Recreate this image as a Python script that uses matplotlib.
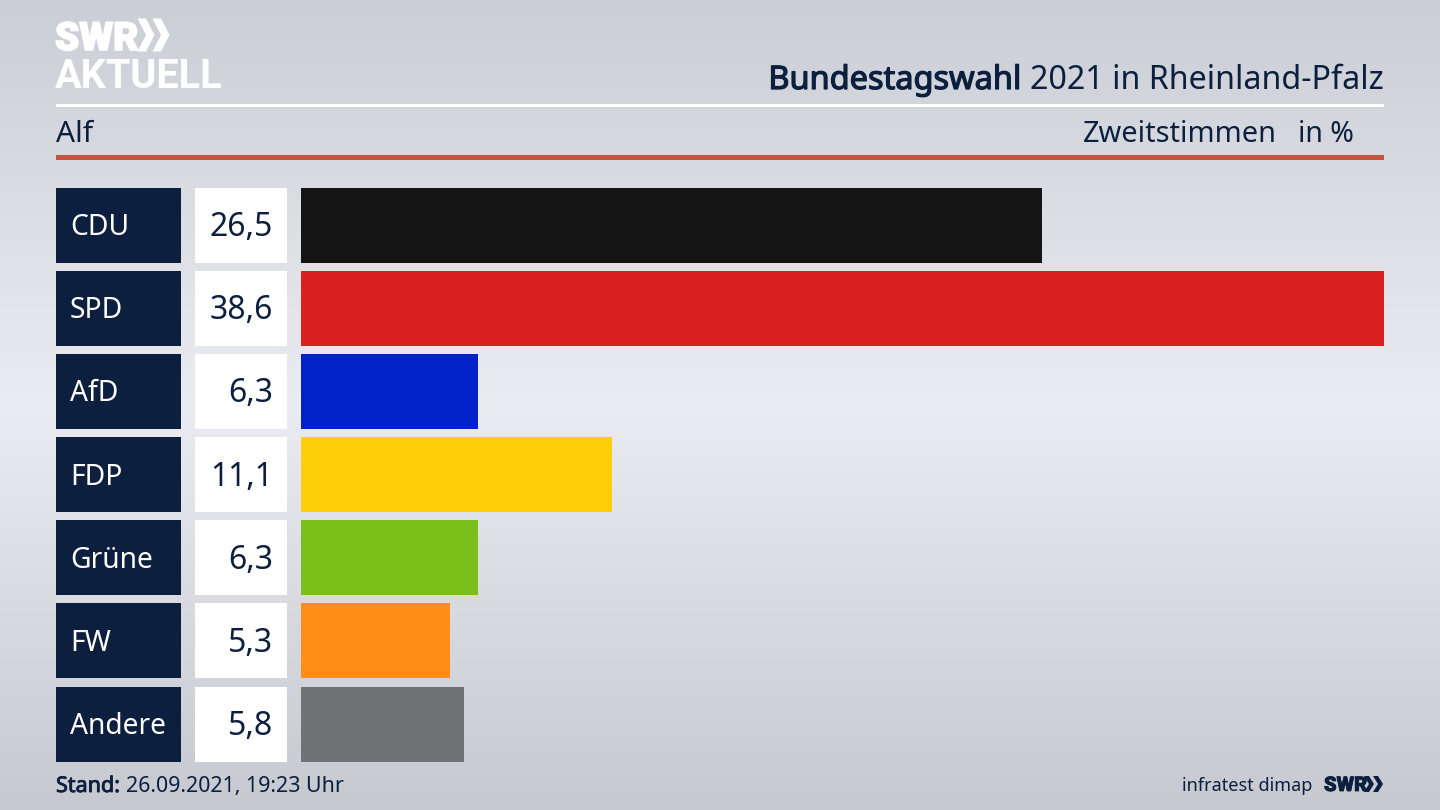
import numpy as np
import matplotlib
matplotlib.use("Agg")
import matplotlib.pyplot as plt
import matplotlib.patheffects as pe
from matplotlib.colors import LinearSegmentedColormap
from matplotlib.patches import Polygon, Rectangle

plt.rcParams['font.family'] = ['Noto Sans', 'DejaVu Sans']

parties = ["CDU", "SPD", "AfD", "FDP", "Grüne", "FW", "Andere"]
value_labels = ["26,5", "38,6", "6,3", "11,1", "6,3", "5,3", "5,8"]
bar_values = [26.4, 38.6, 6.3, 11.1, 6.3, 5.3, 5.8]
bar_colors = ["#141414", "#da2020", "#0022c8", "#ffce0a", "#7abf1a", "#ff8e17", "#717274"]

navy = "#0c1f3f"
W, H = 1440, 810

fig = plt.figure(figsize=(14.4, 8.1), dpi=100)

# page background, everything but the bars is placed in pixels
bg = fig.add_axes([0, 0, 1, 1])
bg.set_xlim(0, W)
bg.set_ylim(H, 0)
bg.axis("off")
cmap = LinearSegmentedColormap.from_list("bg", [(0, "#cbced5"), (0.5, "#ebecf1"), (1, "#c6c9d0")])
bg.imshow(np.linspace(0, 1, 256).reshape(-1, 1), cmap=cmap, aspect="auto", extent=(0, W, H, 0), vmin=0, vmax=1)


def chevrons(ax, x, y, w, h, gap, color):
    for k in range(2):
        x0 = x + k * gap
        ax.add_patch(Polygon([(x0, y), (x0 + w * 0.5, y), (x0 + w, y + h / 2), (x0 + w * 0.5, y + h),
                              (x0, y + h), (x0 + w * 0.5, y + h / 2)], closed=True, fc=color, ec="none"))


def fat(width, color):
    # Noto Sans has no bold cut here, so thicken it with a stroke
    return [pe.withStroke(linewidth=width, foreground=color)]


# logo
bg.text(55, 50, "SWR", color="white", fontsize=28, fontweight="black", family="Roboto", va="baseline",
        path_effects=fat(1.2, "white"))
chevrons(bg, 137.5, 18.5, 17, 33, 15, "white")
bg.text(55, 87.5, "AKTUELL", color="white", fontsize=28.5, fontweight="bold", family="Roboto", va="baseline")

# header
title = bg.text(1384, 89, "2021 in Rheinland-Pfalz", color=navy, fontsize=23.2, ha="right", va="baseline")
fig.canvas.draw()
x_title = title.get_window_extent().x0
bg.text(x_title - 9, 89, "Bundestagswahl", color=navy, fontsize=23.4, ha="right", va="baseline",
        path_effects=fat(0.9, navy))
bg.add_patch(Rectangle((56, 104), 1328, 3, fc="white", ec="none"))
bg.text(56, 142, "Alf", color=navy, fontsize=21.5, va="baseline")
bg.text(1277, 142, "Zweitstimmen", color=navy, fontsize=20.8, ha="right", va="baseline")
bg.text(1354, 142, "in %", color=navy, fontsize=20.5, ha="right", va="baseline")
bg.add_patch(Rectangle((56, 155), 1328, 5, fc="#c9513f", ec="none"))

# bars
top = 187.5
pitch = 83.17
bar_h = 75
ax = fig.add_axes([301 / W, 1 - (top + 6 * pitch + bar_h) / H, 1083 / W, (6 * pitch + bar_h) / H])
ax.patch.set_alpha(0)
ax.axis("off")
ypos = np.arange(len(parties))
ax.barh(ypos, bar_values, height=bar_h / pitch, color=bar_colors)
ax.set_xlim(0, max(bar_values))
ax.set_ylim(6 + bar_h / pitch / 2, -bar_h / pitch / 2)

# name and value boxes
for i, (party, label) in enumerate(zip(parties, value_labels)):
    y = top + i * pitch
    bg.add_patch(Rectangle((56, y), 125, bar_h, fc=navy, ec="none"))
    bg.add_patch(Rectangle((195, y), 92, bar_h, fc="white", ec="none"))
    bg.text(70, y + 47.5, party, color="white", fontsize=20.3, va="baseline")
    bg.text(273, y + 48.5, label, color=navy, fontsize=23, ha="right", va="baseline")

# footer
stand = bg.text(56, 792, "Stand:", color=navy, fontsize=15.5, va="baseline", path_effects=fat(0.6, navy))
fig.canvas.draw()
x_stand = stand.get_window_extent().x1
bg.text(x_stand + 6, 792, "26.09.2021, 19:23 Uhr", color=navy, fontsize=15.4, va="baseline")
bg.text(1312, 791, "infratest dimap", color=navy, fontsize=13, ha="right", va="baseline")
bg.text(1324, 791, "SWR", color=navy, fontsize=14.5, fontweight="black", family="Roboto", va="baseline",
        path_effects=fat(0.6, navy))
chevrons(bg, 1364, 776, 10, 16, 9, navy)

fig.savefig("out.png", dpi=100)
